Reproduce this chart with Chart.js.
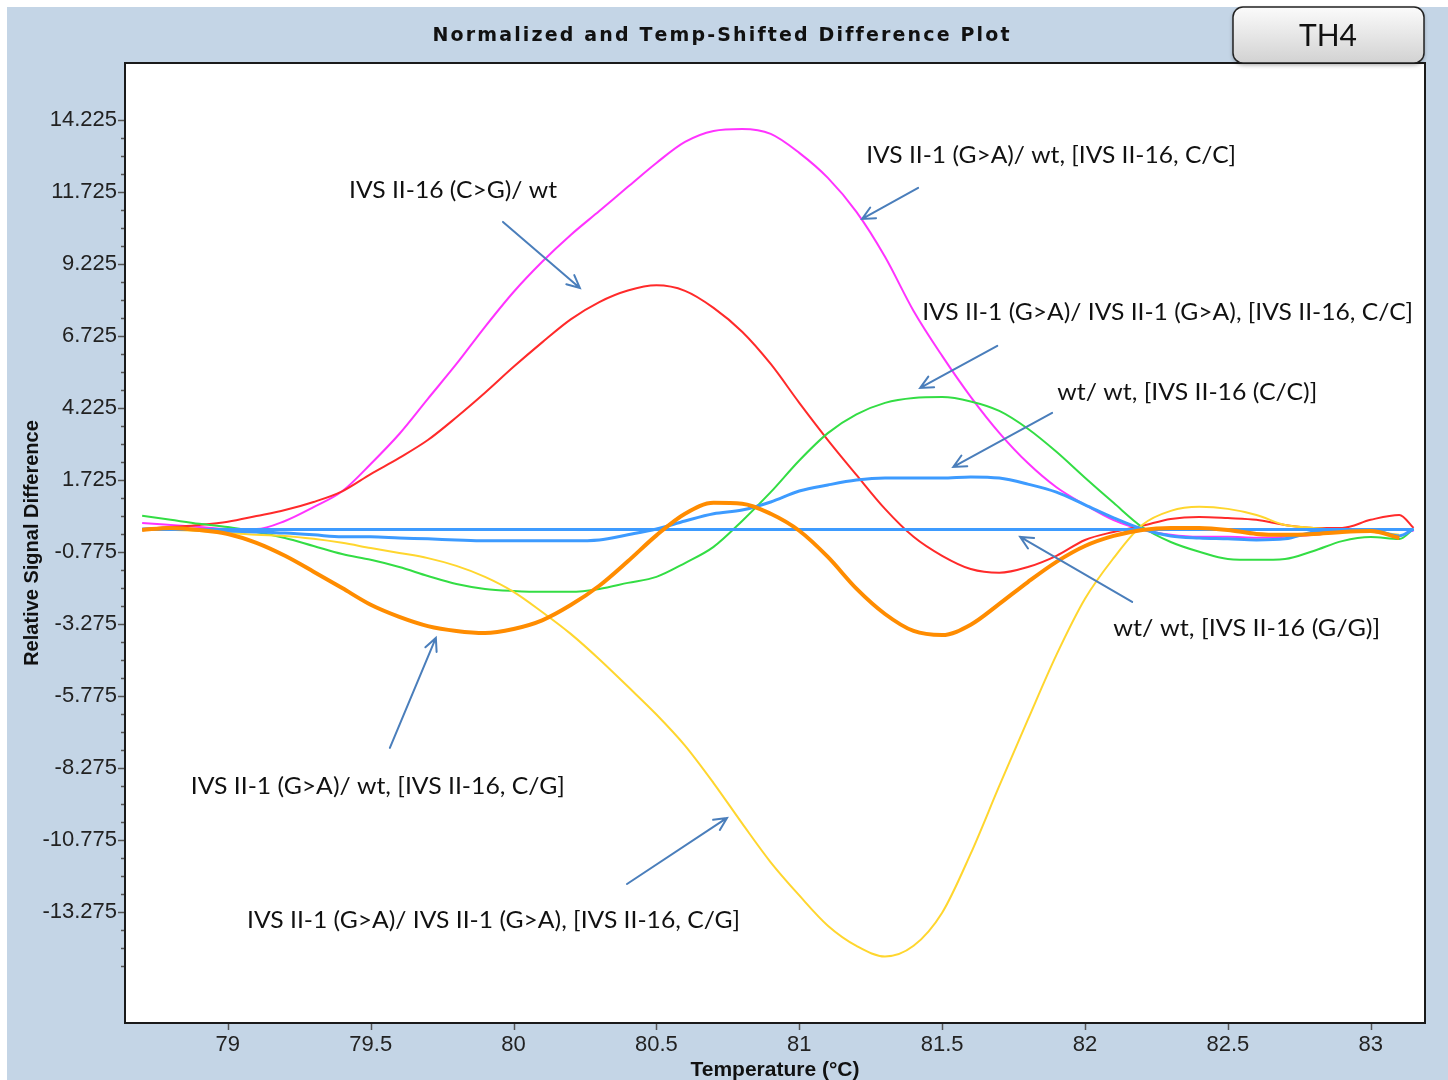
<!DOCTYPE html>
<html>
<head>
<meta charset="utf-8">
<script src="https://cdn.jsdelivr.net/npm/chart.js@4.4.0/dist/chart.umd.min.js"></script>
<style>
  html, body { margin: 0; padding: 0; background: #fff; }
  canvas { display: block; }
</style>
</head>
<body>
<canvas id="diffChart" width="1448" height="1080"></canvas>
<script>
// temperatures (°C) shared by every curve
const temps = [78.7, 78.8, 78.9, 79.0, 79.1, 79.2, 79.3, 79.4, 79.5, 79.6,
  79.7, 79.8, 79.9, 80.0, 80.1, 80.2, 80.3, 80.4, 80.5, 80.6,
  80.7, 80.8, 80.9, 81.0, 81.1, 81.2, 81.3, 81.4, 81.5, 81.6,
  81.7, 81.8, 81.9, 82.0, 82.1, 82.2, 82.3, 82.4, 82.5, 82.6,
  82.7, 82.8, 82.9, 83.0, 83.1, 83.15];

// relative signal difference per genotype
const ccHetero = [0.23, 0.16, 0.09, 0.02, 0.02, 0.30, 0.78, 1.33, 2.28, 3.32,
  4.54, 5.75, 7.04, 8.25, 9.30, 10.23, 11.06, 11.90, 12.73, 13.46,
  13.84, 13.91, 13.74, 13.08, 12.21, 11.03, 9.47, 7.59, 6.03, 4.61,
  3.36, 2.31, 1.47, 0.86, 0.33, 0.00, -0.18, -0.25, -0.25, -0.28,
  -0.25, -0.18, -0.08, 0.00, 0.00, -0.05];
const c16g = [0.02, 0.09, 0.16, 0.27, 0.47, 0.68, 0.96, 1.33, 1.93, 2.49,
  3.11, 3.90, 4.75, 5.65, 6.50, 7.30, 7.90, 8.30, 8.48, 8.29,
  7.70, 6.87, 5.75, 4.40, 3.11, 1.90, 0.72, -0.25, -0.91, -1.37,
  -1.50, -1.30, -0.91, -0.36, -0.08, 0.13, 0.37, 0.44, 0.40, 0.34,
  0.16, 0.06, 0.06, 0.34, 0.51, 0.06];
const ccHomo = [0.48, 0.34, 0.20, 0.09, -0.08, -0.29, -0.57, -0.85, -1.05, -1.30,
  -1.61, -1.89, -2.06, -2.13, -2.16, -2.16, -2.06, -1.85, -1.64, -1.16,
  -0.60, 0.30, 1.30, 2.40, 3.35, 4.00, 4.40, 4.57, 4.60, 4.45,
  4.12, 3.50, 2.70, 1.80, 0.93, 0.09, -0.43, -0.77, -1.02, -1.05,
  -1.02, -0.74, -0.40, -0.26, -0.33, 0.02];
const wtCC = [0.02, 0.02, -0.01, -0.05, -0.08, -0.12, -0.18, -0.25, -0.25, -0.29,
  -0.32, -0.36, -0.39, -0.39, -0.39, -0.39, -0.36, -0.18, 0.02, 0.30,
  0.55, 0.68, 0.96, 1.34, 1.55, 1.72, 1.79, 1.79, 1.79, 1.83,
  1.79, 1.58, 1.30, 0.86, 0.41, 0.02, -0.22, -0.29, -0.32, -0.36,
  -0.32, -0.08, -0.01, -0.01, -0.22, 0.02];
const wtGG = [0, 0, 0, 0, 0, 0, 0, 0, 0, 0,
  0, 0, 0, 0, 0, 0, 0, 0, 0, 0,
  0, 0, 0, 0, 0, 0, 0, 0, 0, 0,
  0, 0, 0, 0, 0, 0, 0, 0, 0, 0,
  0, 0, 0, 0, 0, 0];
const cgHomo = [0.02, -0.01, -0.05, -0.12, -0.18, -0.22, -0.32, -0.46, -0.64, -0.81,
  -0.99, -1.26, -1.64, -2.16, -2.86, -3.62, -4.50, -5.45, -6.42, -7.50,
  -8.80, -10.20, -11.55, -12.70, -13.75, -14.45, -14.82, -14.45, -13.30, -11.25,
  -8.90, -6.60, -4.35, -2.40, -0.99, 0.16, 0.65, 0.79, 0.72, 0.51,
  0.16, 0.06, -0.01, -0.08, -0.18, null];
const cgHetero = [-0.01, 0.06, -0.01, -0.15, -0.46, -0.91, -1.46, -2.03, -2.61, -3.03,
  -3.35, -3.52, -3.59, -3.45, -3.15, -2.62, -1.95, -1.10, -0.20, 0.55,
  0.93, 0.90, 0.55, -0.04, -0.95, -2.05, -2.93, -3.52, -3.66, -3.30,
  -2.58, -1.82, -1.12, -0.57, -0.22, -0.01, 0.06, 0.06, -0.01, -0.15,
  -0.18, -0.15, -0.08, -0.05, -0.29, null];

// axis tick labels
const xTickLabels = [79, 79.5, 80, 80.5, 81, 81.5, 82, 82.5, 83];
const yTickLabels = ['14.225', '11.725', '9.225', '6.725', '4.225', '1.725', '-0.775',
  '-3.275', '-5.775', '-8.275', '-10.775', '-13.275'];

// text callouts, anchored in data units
const notes = [
  { text: 'IVS II-1 (G>A)/ wt, [IVS II-16, C/C]', at: [81.234, 13.01], w: 370, from: [81.416, 11.864], to: [81.22, 10.787] },
  { text: 'IVS II-16 (C>G)/ wt', at: [79.424, 11.794], w: 208, from: [79.963, 10.683], to: [80.232, 8.392] },
  { text: 'IVS II-1 (G>A)/ IVS II-1 (G>A), [IVS II-16, C/C]', at: [81.43, 7.558], w: 491, from: [81.693, 6.378], to: [81.423, 4.919] },
  { text: 'wt/ wt, [IVS II-16 (C/C)]', at: [81.903, 4.781], w: 260, from: [81.885, 4.052], to: [81.539, 2.176] },
  { text: 'wt/ wt, [IVS II-16 (G/G)]', at: [82.099, -3.414], w: 267, from: [82.165, -2.51], to: [81.773, -0.254] },
  { text: 'IVS II-1 (G>A)/ wt, [IVS II-16, C/G]', at: [78.87, -8.9], w: 374, from: [79.567, -7.58], to: [79.728, -3.761] },
  { text: 'IVS II-1 (G>A)/ IVS II-1 (G>A), [IVS II-16, C/G]', at: [79.067, -13.553], w: 493, from: [80.397, -12.303], to: [80.747, -10.011] }
];

function pts(vals) {
  return temps.map((t, i) => ({ x: t, y: vals[i] }));
}
function series(vals, color, width) {
  return { data: pts(vals), borderColor: color, borderWidth: width, pointRadius: 0,
    cubicInterpolationMode: 'monotone', borderJoinStyle: 'round', fill: false };
}

const yMajors = yTickLabels.map(Number);
const yTicks = [];
for (let i = 0; i < yMajors.length; i++) {
  for (let k = 0; k < 4; k++) {
    if (i === 0 && k > 0) break;
    yTicks.push(+(yMajors[i] + (k === 0 ? 0 : 0.625 * (4 - k))).toFixed(3));
  }
}
// three minor ticks below the last label
yTicks.push(-13.9, -14.525, -15.15);
yTicks.sort((a, b) => a - b);

function isMajor(v) {
  return yMajors.some(m => Math.abs(m - v) < 1e-6);
}

function spacedText(ctx, text, cx, y, totalW) {
  let sum = 0;
  for (const ch of text) sum += ctx.measureText(ch).width;
  const gap = (totalW - sum) / (text.length - 1);
  let x = cx - totalW / 2;
  for (const ch of text) {
    ctx.fillText(ch, x, y);
    x += ctx.measureText(ch).width + gap;
  }
}

function roundBox(ctx, x, y, w, h, r) {
  ctx.beginPath();
  ctx.moveTo(x + r, y);
  ctx.arcTo(x + w, y, x + w, y + h, r);
  ctx.arcTo(x + w, y + h, x, y + h, r);
  ctx.arcTo(x, y + h, x, y, r);
  ctx.arcTo(x, y, x + w, y, r);
  ctx.closePath();
}

const decor = {
  id: 'decor',
  beforeDraw(chart) {
    const ctx = chart.ctx, a = chart.chartArea;
    ctx.save();
    ctx.fillStyle = '#ffffff';
    ctx.fillRect(0, 0, chart.width, chart.height);
    ctx.fillStyle = '#c4d5e6';
    ctx.fillRect(7, 7, chart.width - 7, chart.height - 7);
    ctx.fillStyle = '#ffffff';
    ctx.fillRect(a.left, a.top, a.right - a.left, a.bottom - a.top);
    ctx.restore();
  },
  afterDraw(chart) {
    const ctx = chart.ctx, a = chart.chartArea;
    const xs = chart.scales.x, ys = chart.scales.y;
    ctx.save();

    // tick marks
    ctx.strokeStyle = '#555';
    ctx.lineWidth = 1.5;
    ys.ticks.forEach(t => {
      const py = Math.round(ys.getPixelForValue(t.value)) + 0.5;
      ctx.beginPath();
      ctx.moveTo(a.left - (isMajor(t.value) ? 7 : 4), py);
      ctx.lineTo(a.left, py);
      ctx.stroke();
    });
    xs.ticks.forEach(t => {
      const px = Math.round(xs.getPixelForValue(t.value)) + 0.5;
      ctx.beginPath();
      ctx.moveTo(px, a.bottom);
      ctx.lineTo(px, a.bottom + 7);
      ctx.stroke();
    });

    // plot frame
    ctx.strokeStyle = '#1a1a1a';
    ctx.lineWidth = 2;
    ctx.strokeRect(a.left, a.top, a.right - a.left, a.bottom - a.top);

    // title
    ctx.fillStyle = '#111';
    ctx.font = 'bold 19px "DejaVu Sans", sans-serif';
    ctx.textBaseline = 'middle';
    ctx.textAlign = 'left';
    spacedText(ctx, 'Normalized and Temp-Shifted Difference Plot', 721, 36, 577);

    // TH4 badge
    const g = ctx.createLinearGradient(0, 7, 0, 63);
    g.addColorStop(0, '#fbfbfb');
    g.addColorStop(1, '#d2d2d2');
    ctx.shadowColor = 'rgba(0,0,0,0.35)';
    ctx.shadowBlur = 4;
    ctx.shadowOffsetY = 2;
    roundBox(ctx, 1233, 7, 191, 56, 10);
    ctx.fillStyle = g;
    ctx.fill();
    ctx.shadowColor = 'transparent';
    ctx.strokeStyle = '#222';
    ctx.lineWidth = 1.5;
    ctx.stroke();
    ctx.fillStyle = '#111';
    ctx.font = '30px Lato, "Open Sans", sans-serif';
    ctx.textAlign = 'center';
    ctx.fillText('TH4', 1328, 36);

    // callouts
    ctx.textAlign = 'left';
    ctx.font = '24px Lato, "Open Sans", sans-serif';
    notes.forEach(n => {
      const tx = xs.getPixelForValue(n.at[0]);
      const ty = ys.getPixelForValue(n.at[1]);
      const mw = ctx.measureText(n.text).width;
      ctx.save();
      ctx.translate(tx, ty);
      ctx.scale(n.w / mw, 1);
      ctx.fillStyle = '#111';
      ctx.fillText(n.text, 0, 0);
      ctx.restore();

      const x1 = xs.getPixelForValue(n.from[0]), y1 = ys.getPixelForValue(n.from[1]);
      const x2 = xs.getPixelForValue(n.to[0]), y2 = ys.getPixelForValue(n.to[1]);
      const ang = Math.atan2(y2 - y1, x2 - x1);
      ctx.strokeStyle = '#4a7ebb';
      ctx.lineWidth = 2;
      ctx.lineCap = 'round';
      ctx.beginPath();
      ctx.moveTo(x1, y1);
      ctx.lineTo(x2, y2);
      ctx.moveTo(x2 - 14 * Math.cos(ang - 0.45), y2 - 14 * Math.sin(ang - 0.45));
      ctx.lineTo(x2, y2);
      ctx.lineTo(x2 - 14 * Math.cos(ang + 0.45), y2 - 14 * Math.sin(ang + 0.45));
      ctx.stroke();
    });
    ctx.restore();
  }
};

new Chart(document.getElementById('diffChart'), {
  type: 'line',
  data: {
    datasets: [
      series(cgHetero, '#ff8c00', 4),
      series(wtGG, '#3d9bff', 3),
      series(wtCC, '#3d9bff', 3),
      series(cgHomo, '#ffd62e', 2),
      series(ccHomo, '#33dd44', 2),
      series(c16g, '#ff2a2a', 2),
      series(ccHetero, '#ff33ff', 2)
    ]
  },
  options: {
    responsive: false,
    animation: false,
    events: [],
    layout: { padding: { top: 63, right: 23, left: 0, bottom: 0 } },
    plugins: { legend: { display: false }, tooltip: { enabled: false } },
    scales: {
      x: {
        type: 'linear',
        min: 78.64,
        max: 83.19,
        afterBuildTicks: s => { s.ticks = xTickLabels.map(v => ({ value: v })); },
        afterFit: s => { s.height = 57; },
        grid: { display: true, drawOnChartArea: false, drawTicks: false },
        border: { display: false },
        ticks: {
          autoSkip: false, maxRotation: 0, padding: 9, color: '#222',
          font: { family: '"Liberation Sans Narrow", "Arial Narrow", sans-serif', size: 22 },
          callback: v => String(v)
        },
        title: {
          display: true, text: 'Temperature (°C)', color: '#111',
          font: { family: '"Liberation Sans", Arial, sans-serif', size: 21, weight: 'bold' },
          padding: { top: 0, bottom: -3 }
        }
      },
      y: {
        min: -17.13,
        max: 16.2,
        afterBuildTicks: s => { s.ticks = yTicks.map(v => ({ value: v })); },
        afterFit: s => { s.width = 125; },
        grid: { display: true, drawOnChartArea: false, drawTicks: false },
        border: { display: false },
        ticks: {
          autoSkip: false, padding: 8, color: '#222',
          font: { family: '"Liberation Sans Narrow", "Arial Narrow", sans-serif', size: 22 },
          callback: v => (isMajor(v) ? v.toFixed(3) : '')
        },
        title: {
          display: true, text: 'Relative Signal Difference', color: '#111',
          font: { family: '"Liberation Sans", Arial, sans-serif', size: 20, weight: 'bold' },
          padding: { top: 20, bottom: 0 }
        }
      }
    }
  },
  plugins: [decor]
});
</script>
</body>
</html>
